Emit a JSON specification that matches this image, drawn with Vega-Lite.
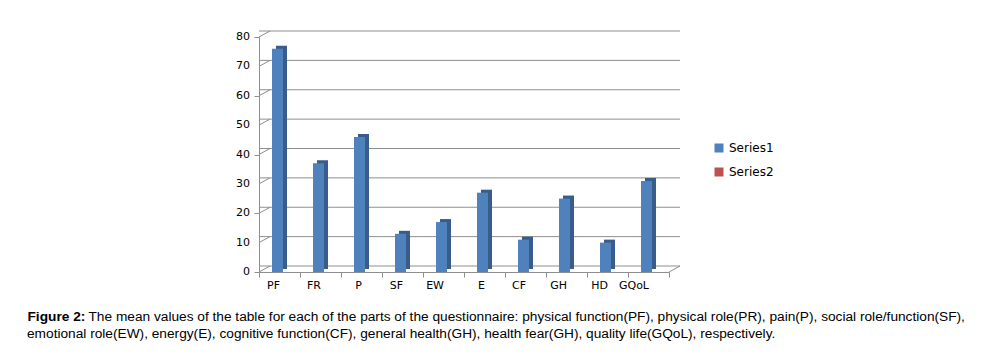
{
  "$schema": "https://vega.github.io/schema/vega-lite/v6.json",
  "width": 410,
  "height": 235,
  "autosize": {"type": "none"},
  "padding": {"left": 259, "top": 37, "right": 326, "bottom": 84},
  "background": "white",
  "config": {
    "view": {"stroke": null},
    "font": "DejaVu Sans",
    "axisY": {"labelOverlap": false, "values": [0, 10, 20, 30, 40, 50, 60, 70, 80]}
  },
  "datasets": {
    "main": [
      {"part": "PF", "value": 76, "series": "Series1"},
      {"part": "FR", "value": 37, "series": "Series1"},
      {"part": "P", "value": 46, "series": "Series1"},
      {"part": "SF", "value": 13, "series": "Series1"},
      {"part": "EW", "value": 17, "series": "Series1"},
      {"part": "E", "value": 27, "series": "Series1"},
      {"part": "CF", "value": 11, "series": "Series1"},
      {"part": "GH", "value": 25, "series": "Series1"},
      {"part": "HD", "value": 10, "series": "Series1"},
      {"part": "GQoL", "value": 31, "series": "Series1"}
    ],
    "grid": [
      {"v": 0}, {"v": 10}, {"v": 20}, {"v": 30}, {"v": 40},
      {"v": 50}, {"v": 60}, {"v": 70}, {"v": 80}
    ],
    "floor": [{"v": 0}]
  },
  "title": {
    "text": "emotional role(EW), energy(E), cognitive function(CF), general health(GH), health fear(GH), quality life(GQoL), respectively.",
    "orient": "bottom",
    "anchor": "start",
    "frame": "group",
    "dx": -232,
    "offset": 4,
    "font": "Liberation Sans",
    "fontSize": 13.7,
    "fontWeight": "normal",
    "color": "#000000"
  },
  "layer": [
    {
      "data": {"name": "grid"},
      "mark": {"type": "rule", "color": "#8E8E8E", "strokeWidth": 1, "xOffset": 11, "x2Offset": 11, "yOffset": -6, "y2Offset": -6},
      "encoding": {
        "y": {
          "field": "v",
          "type": "quantitative",
          "scale": {"domain": [0, 80], "nice": false},
          "axis": {
            "values": [0, 10, 20, 30, 40, 50, 60, 70, 80],
            "labels": false,
            "labelOverlap": false,
            "title": "The mean values of the table for each of the parts of the questionnaire: physical function(PF), physical role(PR), pain(P), social role/function(SF),",
            "titleAngle": 0,
            "titleX": -171,
            "titleY": 283,
            "titleAlign": "left",
            "titleAnchor": null,
            "titleBaseline": "alphabetic",
            "titleFont": "Liberation Sans",
            "titleFontSize": 13.7,
            "titleFontWeight": "normal",
            "titleColor": "#000000",
            "tickSize": 5,
            "tickColor": "#8E8E8E",
            "domainColor": "#8E8E8E",
            "grid": false
          }
        }
      }
    },
    {
      "data": {"name": "grid"},
      "mark": {"type": "rule", "color": "#8E8E8E", "strokeWidth": 1, "x2Offset": 11, "y2Offset": -6},
      "encoding": {
        "x": {"datum": "PF", "type": "nominal", "bandPosition": 0},
        "x2": {"datum": "PF", "bandPosition": 0},
        "y": {"field": "v", "type": "quantitative"},
        "y2": {"field": "v"}
      }
    },
    {
      "data": {"name": "grid"},
      "mark": {"type": "text", "align": "right", "baseline": "middle", "dx": -9, "font": "DejaVu Sans", "fontSize": 11, "color": "#000000"},
      "encoding": {
        "x": {"datum": "PF", "type": "nominal", "bandPosition": 0},
        "y": {"field": "v", "type": "quantitative"},
        "text": {"field": "v", "type": "quantitative"}
      }
    },
    {
      "data": {"name": "floor"},
      "mark": {"type": "rule", "color": "#8E8E8E", "strokeWidth": 1, "x2Offset": 11, "y2Offset": -6},
      "encoding": {
        "x": {"datum": "GQoL", "type": "nominal", "bandPosition": 1},
        "x2": {"datum": "GQoL", "bandPosition": 1},
        "y": {"field": "v", "type": "quantitative"},
        "y2": {"field": "v"}
      }
    },
    {
      "data": {"name": "main"},
      "mark": {"type": "bar", "width": 11, "xOffset": 2, "yOffset": -3, "y2Offset": -3, "color": "#385D8A"},
      "encoding": {
        "x": {"field": "part", "type": "nominal", "sort": null},
        "y": {"field": "value", "type": "quantitative"}
      }
    },
    {
      "data": {"name": "main"},
      "mark": {"type": "bar", "width": 11, "xOffset": -2},
      "encoding": {
        "x": {
          "field": "part",
          "type": "nominal",
          "sort": null,
          "scale": {"domain": ["PF", "FR", "P", "SF", "EW", "E", "CF", "GH", "HD", "GQoL"], "paddingInner": 0, "paddingOuter": 0},
          "axis": {
            "title": "Figure 2:",
            "titleFont": "Liberation Sans",
            "titleFontSize": 13.7,
            "titleFontWeight": "bold",
            "titleColor": "#000000",
            "titleX": -232,
            "titleY": 48,
            "titleAlign": "left",
            "titleAnchor": null,
            "titleBaseline": "alphabetic",
            "labelAngle": 0,
            "labelFont": "DejaVu Sans",
            "labelFontSize": 11,
            "labelColor": "#000000",
            "labelPadding": 8,
            "tickBand": "extent",
            "tickSize": 5,
            "tickColor": "#8E8E8E",
            "domainColor": "#8E8E8E",
            "grid": false
          }
        },
        "y": {"field": "value", "type": "quantitative"},
        "color": {
          "field": "series",
          "type": "nominal",
          "scale": {"domain": ["Series1", "Series2"], "range": ["#4F81BD", "#C0504D"]},
          "legend": {
            "title": null,
            "orient": "none",
            "legendX": 454,
            "legendY": 105,
            "symbolType": "square",
            "symbolSize": 81,
            "symbolStrokeWidth": 0,
            "labelFont": "DejaVu Sans",
            "labelFontSize": 12,
            "labelColor": "#000000",
            "labelOffset": 4,
            "rowPadding": 12
          }
        }
      }
    }
  ]
}
